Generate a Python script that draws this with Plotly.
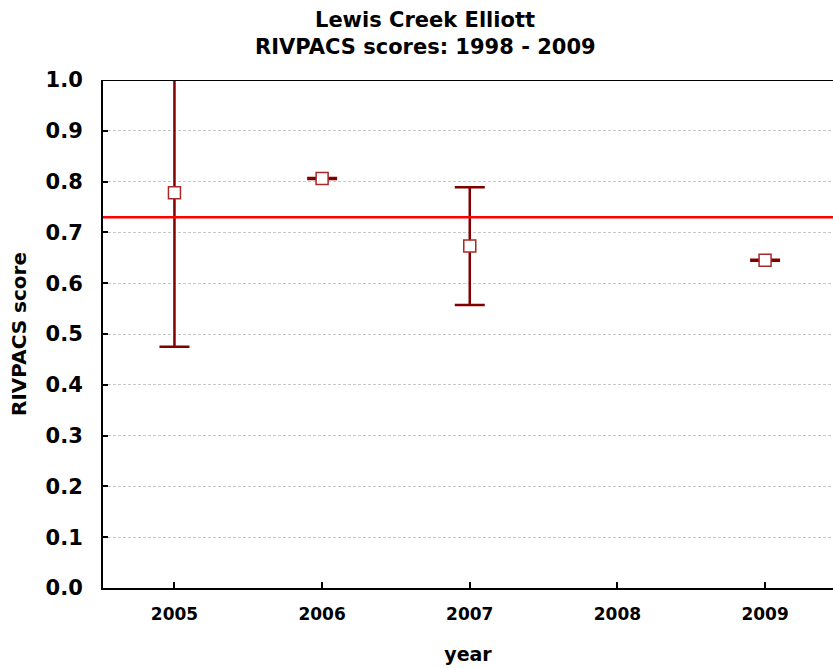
import plotly.graph_objects as go

# RIVPACS scores per sampling year, with error half-widths
years = [2005, 2006, 2007, 2009]
scores = [0.778, 0.806, 0.673, 0.645]
errors = [0.303, 0.001, 0.116, 0.001]
reference_score = 0.730

x_ticks = [2005, 2006, 2007, 2008, 2009]
y_ticks = [0.0, 0.1, 0.2, 0.3, 0.4, 0.5, 0.6, 0.7, 0.8, 0.9, 1.0]

title_lines = ["Lewis Creek Elliott", "RIVPACS scores: 1998 - 2009"]

FONT = "DejaVu Sans"
DARK_RED = "#800000"
W, H = 833, 668

fig = go.Figure()

fig.add_trace(go.Scatter(
    x=years,
    y=scores,
    mode="markers",
    marker=dict(symbol="square", size=12, color="white",
                line=dict(color="#a52a2a", width=1.5)),
    error_y=dict(type="data", array=errors, symmetric=True,
                 color=DARK_RED, thickness=2.5, width=15),
    cliponaxis=True,
    showlegend=False,
))

# reference threshold line
fig.add_hline(y=reference_score, line=dict(color="#ff0000", width=2.5))

# top frame line
fig.add_shape(type="line", xref="paper", yref="y", x0=0, x1=1, y0=1.0, y1=1.0,
              line=dict(color="black", width=2))

# two-line heading, centred on the page
for line, y_px in zip(title_lines, [20, 47]):
    fig.add_annotation(
        text=f"<b>{line}</b>", xref="paper", yref="paper",
        x=(425 - 103) / (W - 103), y=1 + (80 - y_px) / (H - 160),
        xanchor="center", yanchor="middle", showarrow=False,
        font=dict(family=FONT, size=21, color="black"),
    )

fig.update_layout(
    width=W,
    height=H,
    margin=dict(l=103, r=0, t=80, b=80),
    paper_bgcolor="white",
    plot_bgcolor="white",
    font=dict(family=FONT, color="black"),
    xaxis=dict(
        range=[2004.516, 2009.46],
        tickmode="array", tickvals=x_ticks,
        ticktext=[f"<b>{v}</b>" for v in x_ticks],
        ticks="inside", ticklen=6, tickwidth=1.5, tickcolor="black",
        showline=True, linecolor="black", linewidth=2,
        showgrid=False, zeroline=False,
        ticklabelstandoff=10,
        tickfont=dict(family=FONT, size=17, color="black"),
        title=dict(text="<b>year</b>", font=dict(family=FONT, size=19), standoff=24),
    ),
    yaxis=dict(
        range=[0, 1.0],
        tickmode="array", tickvals=y_ticks,
        ticktext=[f"<b>{v:.1f}</b>" for v in y_ticks],
        ticks="inside", ticklen=5, tickwidth=2, tickcolor="black",
        showline=True, linecolor="black", linewidth=2,
        showgrid=True, gridcolor="#c8c8c8", gridwidth=1, griddash="3px,2px",
        zeroline=False,
        ticklabelstandoff=14,
        tickfont=dict(family=FONT, size=21, color="black"),
        title=dict(text="<b>RIVPACS score</b>", font=dict(family=FONT, size=20), standoff=14),
    ),
)

fig.write_html("out.html")
